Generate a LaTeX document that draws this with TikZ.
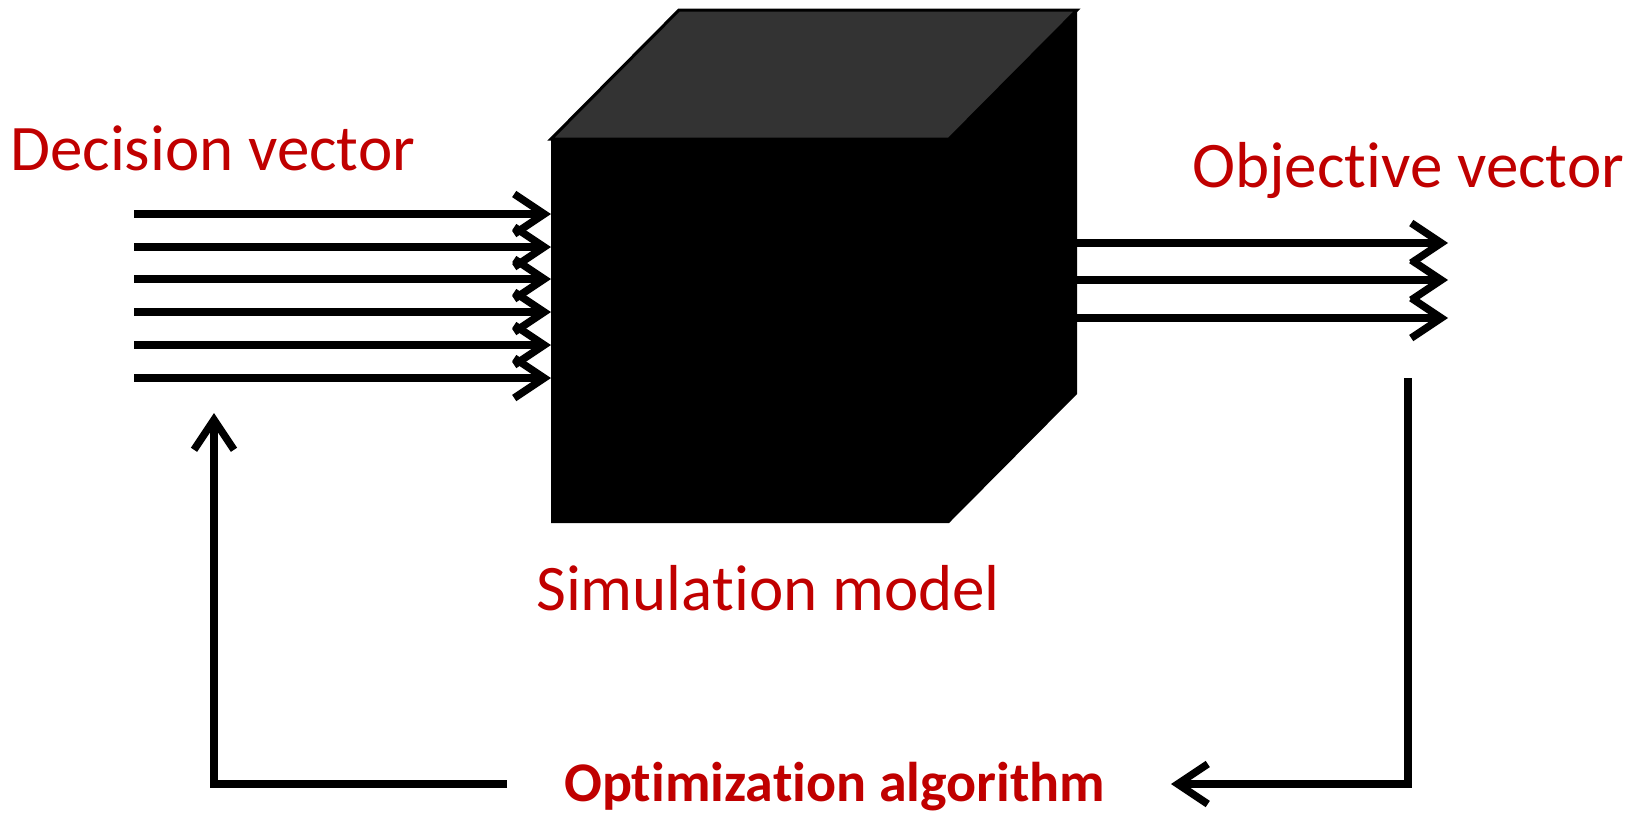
\documentclass[tikz,border=0pt]{standalone}
\usepackage{fontspec}
\setmainfont[Ligatures=NoCommon]{Carlito}
\usetikzlibrary{arrows.meta}
\definecolor{lblred}{HTML}{C00000}
\definecolor{topgray}{HTML}{333333}
\begin{document}
\begin{tikzpicture}[x=1pt,y=-1pt,
  conn/.style={line width=7.5pt,-{Straight Barb[length=30pt,width=40pt,line width=7.5pt]}},
  lbl/.style={text=lblred,font=\fontsize{65}{72}\selectfont,inner sep=0pt,anchor=base west},
  blbl/.style={text=lblred,font=\fontsize{56}{64}\selectfont\bfseries,inner sep=0pt,anchor=base west}]
\useasboundingbox (0,0) rectangle (1639,815);
% cube
\coordinate (ftl) at (551,139);
\coordinate (ftr) at (949,139);
\coordinate (fbr) at (949,523);
\coordinate (fbl) at (551,523);
\coordinate (btl) at (679,10);
\coordinate (btr) at (1077,10);
\coordinate (bbr) at (1077,394);
\fill[black] (fbl) -- (ftl) -- (btl) -- (btr) -- (bbr) -- (fbr) -- cycle;
\filldraw[fill=topgray,draw=black,line width=3pt,line join=miter] (ftl) -- (btl) -- (btr) -- (ftr) -- cycle;
% inputs
\foreach \i/\y in {1/214,2/247,3/279,4/312,5/345,6/378}{
  \coordinate (inS\i) at (134,\y);
  \coordinate (inE\i) at (551,\y);
  \draw[conn] (inS\i) -- (inE\i);
}
% outputs
\foreach \i/\y in {1/243,2/280,3/318}{
  \coordinate (outS\i) at (1077,\y);
  \coordinate (outE\i) at (1448,\y);
  \draw[conn] (outS\i) -- (outE\i);
}
% labels
\node[lbl] (dec) at (10,170) {Decision vector};
\node[lbl] (obj) at (1192,187) {Objective vector};
\node[lbl] (sim) at (536,610) {Simulation model};
\node[blbl] (opt) at (564,801) {Optimization algorithm};
% feedback loop
\coordinate (rTop) at (1408,378);
\coordinate (rCorner) at (1408,784);
\coordinate (rEnd) at (1171,784);
\draw[conn,line join=miter] (rTop) -- (rCorner) -- (rEnd);
\coordinate (lStart) at (507,784);
\coordinate (lCorner) at (214,784);
\coordinate (lEnd) at (214,413);
\draw[conn,line join=miter] (lStart) -- (lCorner) -- (lEnd);
\end{tikzpicture}
\end{document}
